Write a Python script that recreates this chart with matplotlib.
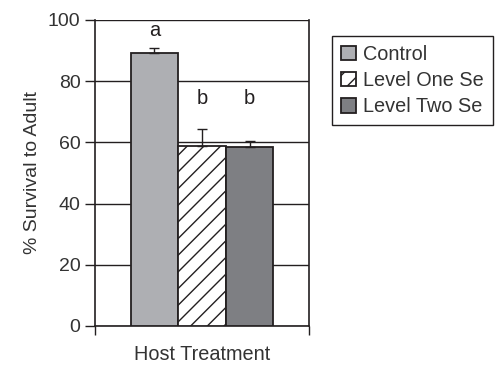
import matplotlib
matplotlib.use("Agg")
import matplotlib.pyplot as plt
import numpy as np

INK = "#231F20"
TXT = "#333333"

treatments = ["Control", "Level One Se", "Level Two Se"]
survival = [89.3, 58.9, 58.4]
err_upper = [1.4, 5.6, 1.9]
letters = ["a", "b", "b"]
letter_y = [96.5, 74.5, 74.5]
yticks = [0, 20, 40, 60, 80, 100]

plt.rcParams.update({
    "font.family": ["Liberation Sans", "DejaVu Sans"],
    "font.size": 14,
    "hatch.linewidth": 1.0,
    "hatch.color": INK,
})

fig = plt.figure(figsize=(4.97, 3.65), dpi=100)
ax = fig.add_axes([95 / 497, 1 - 326 / 365, 214 / 497, 306 / 365])

x = np.arange(len(treatments)) - 1.0
faces = ["#AEAFB3", "white", "#7E7F83"]
hatches = [None, "//", None]
for xi, v, fc, h, lab in zip(x, survival, faces, hatches, treatments):
    ax.bar(xi, v, width=1.0, color=fc, edgecolor=INK, linewidth=1.3,
           hatch=h, label=lab, zorder=3)
ax.errorbar(x, survival, yerr=[np.zeros(len(x)), err_upper], fmt="none",
            ecolor=INK, elinewidth=1.0, capsize=3.3, capthick=1.0, zorder=4)
for xi, t, ly in zip(x, letters, letter_y):
    ax.text(xi, ly, t, ha="center", va="center", fontsize=14.5, color=INK)

ax.set_xlim(-2.25, 2.25)
ax.set_ylim(0, 100)
ax.set_yticks(yticks)
ax.set_xticks([-2.25, 2.25])
ax.tick_params(axis="y", direction="out", length=7, width=1, colors=INK, labelcolor=TXT)
ax.tick_params(axis="x", direction="out", length=6.5, width=1, colors=INK, labelbottom=False)
ax.grid(axis="y", color=INK, linewidth=1.0, zorder=0)
ax.set_axisbelow(True)
ax.spines["top"].set_visible(False)
for s in ["left", "right", "bottom"]:
    ax.spines[s].set_color(INK)
    ax.spines[s].set_linewidth(1.2)

ax.set_ylabel("% Survival to Adult", fontsize=14, color=TXT, labelpad=5)
fig.text(202 / 497, 1 - 364 / 365, "Host Treatment", ha="center", va="bottom",
         fontsize=14.3, color=TXT)

leg = fig.legend(loc="upper left", bbox_to_anchor=(332 / 497, 1 - 36 / 365),
                 borderaxespad=0, fancybox=False, framealpha=1, edgecolor=INK,
                 handlelength=0.74, handleheight=0.74, handletextpad=0.39,
                 labelspacing=0.36, borderpad=0.45, fontsize=14.3)
leg.get_frame().set_linewidth(1.0)
for t in leg.get_texts():
    t.set_color(TXT)

fig.savefig("out.png", dpi=100)
